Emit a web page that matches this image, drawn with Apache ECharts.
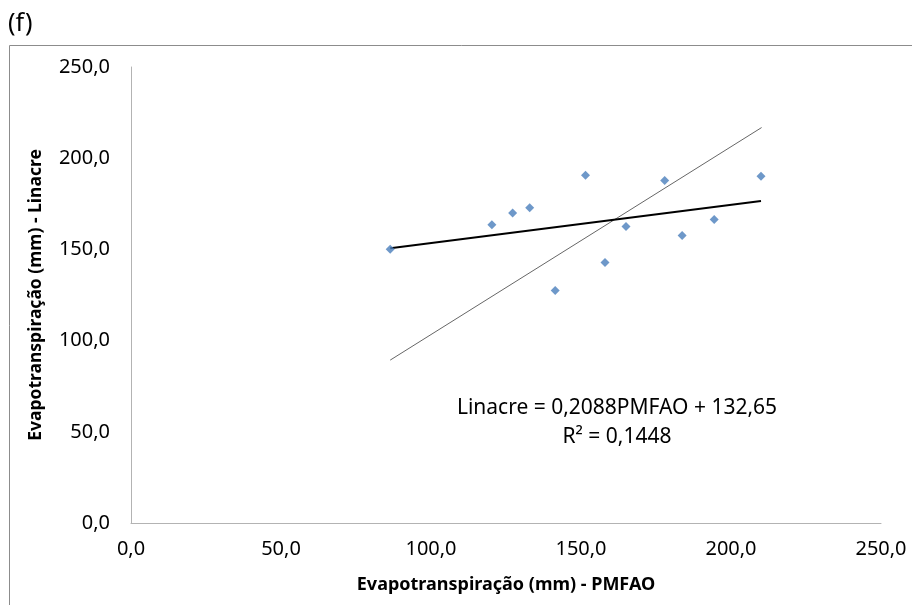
<!DOCTYPE html>
<html>
<head>
<meta charset="utf-8">
<script src="https://cdn.jsdelivr.net/npm/echarts@6/dist/echarts.min.js"></script>
<style>
  html, body { margin: 0; padding: 0; background: #fff; }
  #chart { width: 912px; height: 605px; }
</style>
</head>
<body>
<div id="chart"></div>
<script>
// PMFAO (x) vs Linacre (y), mm
const pmfao   = [86.4, 120.3, 127.2, 132.9, 141.4, 151.5, 158.0, 165.0, 177.9, 183.7, 194.4, 210.0];
const linacre = [150.1, 163.5, 169.9, 172.8, 127.5, 190.7, 142.8, 162.6, 187.8, 157.6, 166.4, 190.1];
// regression coefficients shown on the chart
const slope = 0.2088, intercept = 132.65, r2 = 0.1448;
// thin grey reference line (ends)
const refLineX = [86.4, 210.2];
const refLineY = [89.3, 216.8];

const fmt = v => v.toFixed(1).replace('.', ',');
const fmtC = (v, d) => v.toFixed(d).replace('.', ',');

const points = pmfao.map((x, i) => [x, linacre[i]]);
const xMin = Math.min(...pmfao), xMax = Math.max(...pmfao);
const trend = [[xMin, slope * xMin + intercept], [xMax, slope * xMax + intercept]];
const refLine = refLineX.map((x, i) => [x, refLineY[i]]);

const font = 'Noto Sans';
let chart = echarts.init(document.getElementById('chart'));
chart.setOption({
    animation: false,
    textStyle: { fontFamily: font },
    grid: { left: 131, right: 31, top: 67, bottom: 82 },
    graphic: [
        { type: 'rect', shape: { x: 9.5, y: 45.5, width: 1000, height: 1000 },
          style: { fill: 'none', stroke: '#8c8c8c', lineWidth: 1 }, z: -1 },
        { type: 'text', left: 8, top: 11,
          style: { text: '(f)', font: '25px "Noto Sans"', fill: '#000' } },
        { type: 'text', x: 617, y: 408,
          style: { text: 'Linacre = ' + fmtC(slope, 4) + 'PMFAO + ' + fmtC(intercept, 2),
                   font: '21px "Noto Sans"', fill: '#000', align: 'center', verticalAlign: 'middle' } },
        { type: 'text', x: 617, y: 437,
          style: { text: 'R² = ' + fmtC(r2, 4),
                   font: '21px "Noto Sans"', fill: '#000', align: 'center', verticalAlign: 'middle' } }
    ],
    xAxis: {
        type: 'value', min: 0, max: 250, interval: 50,
        name: 'Evapotranspiração (mm) - PMFAO',
        nameLocation: 'middle', nameGap: 53,
        nameTextStyle: { fontSize: 18, fontWeight: 'bold', color: '#000' },
        axisLine: { show: true, lineStyle: { color: '#b3b3b3', width: 1 } },
        axisTick: { show: false },
        splitLine: { show: false },
        axisLabel: { color: '#000', fontSize: 20, margin: 16, formatter: fmt }
    },
    yAxis: {
        type: 'value', min: 0, max: 250, interval: 50,
        name: 'Evapotranspiração (mm) - Linacre',
        nameLocation: 'middle', nameGap: 86,
        nameTextStyle: { fontSize: 17.5, fontWeight: 'bold', color: '#000' },
        axisLine: { show: true, lineStyle: { color: '#b3b3b3', width: 1 } },
        axisTick: { show: false },
        splitLine: { show: false },
        axisLabel: { color: '#000', fontSize: 20, margin: 21, formatter: fmt }
    },
    series: [
        {
            type: 'line', data: refLine, symbol: 'none', silent: true,
            lineStyle: { color: '#666', width: 1 }, z: 1
        },
        {
            type: 'line', data: trend, symbol: 'none', silent: true,
            lineStyle: { color: '#000', width: 2 }, z: 2
        },
        {
            type: 'scatter', data: points, symbol: 'diamond', symbolSize: 9,
            itemStyle: { color: '#4a7ebb' }, z: 3
        }
    ]
});
</script>
</body>
</html>
